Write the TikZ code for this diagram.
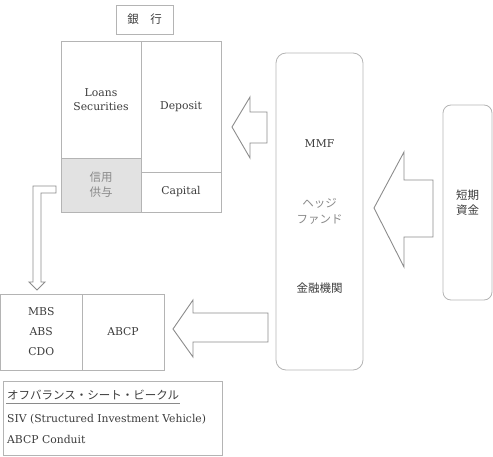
\documentclass[tikz,border=0pt]{standalone}
\usepackage{fontspec}
\setmainfont{DejaVu Serif}
\newfontfamily\jfont{Noto Sans CJK JP}
\usetikzlibrary{positioning}
\definecolor{linegray}{HTML}{B4B4B4}
\definecolor{arrowgray}{HTML}{8C8C8C}
\definecolor{textgray}{HTML}{3C3C3C}
\definecolor{softgray}{HTML}{8A8A8A}
\definecolor{cellfill}{HTML}{E2E2E2}
\tikzset{
  frame/.style={draw=linegray, line width=0.8pt, inner sep=0pt, outer sep=0pt},
  txt/.style={text=textgray, font=\fontsize{10.8}{14}\selectfont, align=center},
  jtxt/.style={text=textgray, font=\jfont\fontsize{11.5}{15}\selectfont, align=center},
  blockarrow/.style={draw=arrowgray, line width=0.9pt, fill=white, line join=miter},
}
\begin{document}
\begin{tikzpicture}[x=1pt,y=-1pt]
  \useasboundingbox (0,0) rectangle (493,457);
  % bank
  \node[frame, jtxt, minimum width=57pt, minimum height=29pt] (bank) at (144.5,19.5) {銀\hspace{1em}行};
  \node[frame, txt, minimum width=80pt, minimum height=117pt] (loans) at (101,99.5) {Loans\\Securities};
  \node[frame, jtxt, fill=cellfill, text=softgray, minimum width=80pt, minimum height=54pt] (credit) at (101,185) {信用\\供与};
  \node[frame, txt, minimum width=80pt, minimum height=131pt] (deposit) at (181,106.5) {Deposit};
  \node[frame, txt, minimum width=80pt, minimum height=40pt] (capital) at (181,192) {Capital};
  % funds
  \node[frame, rounded corners=10pt, minimum width=87pt, minimum height=317pt] (fund) at (319.5,211.5) {};
  \node[txt] (mmf) at (319.5,144) {MMF};
  \node[jtxt, text=softgray, font=\jfont\fontsize{11.5}{16}\selectfont] (hedge) at (319.5,211) {ヘッジ\\ファンド};
  \node[jtxt] (bank2) at (319.5,288) {金融機関};
  \node[frame, jtxt, rounded corners=8pt, minimum width=49pt, minimum height=195pt] (short) at (467.5,202.5) {短期\\資金};
  % vehicle
  \node[frame, txt, font=\fontsize{10.8}{20}\selectfont, minimum width=81.5pt, minimum height=76pt] (mbs) at (41.25,332) {MBS\\ABS\\CDO};
  \node[frame, txt, minimum width=82pt, minimum height=76pt] (abcp) at (123,332) {ABCP};
  \node[frame, minimum width=219pt, minimum height=74pt] (obs) at (112.5,418) {};
  \node[jtxt, anchor=west, inner sep=1pt] (obstitle) at (6,395) {オフバランス・シート・ビークル};
  \draw[softgray, line width=0.6pt] ([yshift=-2pt]obstitle.south west) -- ([yshift=-2pt]obstitle.south east);
  \node[txt, anchor=west, inner sep=1pt] (siv) at (6,419) {SIV (Structured Investment Vehicle)};
  \node[txt, anchor=west, inner sep=1pt] (conduit) at (6,439) {ABCP Conduit};
  % arrows
  \draw[blockarrow] (232,127) -- (250,97) -- (250,112) -- (267,112) -- (267,143) -- (250,143) -- (250,158) -- cycle;
  \draw[blockarrow] (374,208) -- (404,152) -- (404,180) -- (433,180) -- (433,237) -- (404,237) -- (404,267) -- cycle;
  \draw[blockarrow] (173,329) -- (193,300) -- (193,313) -- (268,313) -- (268,342) -- (193,342) -- (193,357) -- cycle;
  \draw[blockarrow] (56,186) -- (33,186) -- (33,282) -- (29,282) -- (37,290) -- (45,282) -- (41,282) -- (41,193) -- (56,193) -- cycle;
\end{tikzpicture}
\end{document}
